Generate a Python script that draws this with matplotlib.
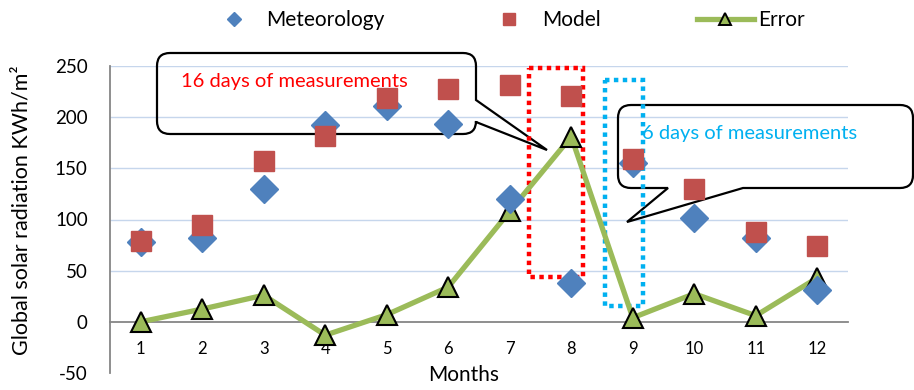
import matplotlib
matplotlib.use("Agg")
import matplotlib.pyplot as plt
import matplotlib.transforms as mtransforms
from matplotlib.path import Path
from matplotlib.patches import PathPatch, Rectangle
from matplotlib.lines import Line2D

plt.rcParams["font.family"] = ["Lato", "DejaVu Sans"]

# Monthly global solar radiation (KWh/m²)
months = list(range(1, 13))
month_labels = [str(m) for m in months]
meteorology = [78, 82, 130, 192, 211, 193, 120, 38, 155, 101, 82, 31]
model = [79, 95, 157, 182, 219, 228, 231, 221, 159, 130, 88, 74]
error = [0, 12.5, 26, -13, 7, 34, 108, 181, 4, 27.5, 6, 43]

y_ticks = [-50, 0, 50, 100, 150, 200, 250]

BLUE = "#4f81bd"
RED = "#c0504d"
GREEN = "#9bbb59"
GRID = "#c6d6ec"
AXIS = "#868686"

W, H = 914, 390
fig = plt.figure(figsize=(W / 100, H / 100), dpi=100)
ax = fig.add_axes([110 / W, 1 - 373 / H, (848 - 110) / W, (373 - 66) / H])

# pixel-space transform (origin top-left) for the annotation shapes
pix = mtransforms.Affine2D().scale(1 / W, -1 / H).translate(0, 1) + fig.transFigure

ax.set_xlim(0.5, 12.5)
ax.set_ylim(-50, 250)
ax.set_xticks(months)
ax.set_xticklabels(month_labels)
ax.set_yticks(y_ticks)
ax.set_yticklabels([str(v) for v in y_ticks])

for v in y_ticks[2:]:
    ax.axhline(v, color=GRID, lw=1.0, zorder=0.5)

for s in ("top", "right"):
    ax.spines[s].set_visible(False)
ax.spines["left"].set_color(AXIS)
ax.spines["left"].set_linewidth(1.3)
ax.spines["bottom"].set_position(("data", 0))
ax.spines["bottom"].set_color(AXIS)
ax.spines["bottom"].set_linewidth(1.3)
ax.spines["bottom"].set_zorder(0.6)

ax.tick_params(axis="y", length=0, pad=16, labelsize=13.5, colors="black")
ax.tick_params(axis="x", length=0, pad=14, labelsize=12, colors="black")

# series
ax.plot(months, error, color=GREEN, lw=3.8, marker="^", ms=14.5,
        mfc=GREEN, mec="black", mew=1.5, zorder=3, clip_on=False)
ax.plot(months, meteorology, ls="none", marker="D", ms=14.2, color=BLUE,
        mec=BLUE, zorder=4, clip_on=False)
ax.plot(months, model, ls="none", marker="s", ms=15, color=RED,
        mec=RED, zorder=5, clip_on=False)


def callout(x0, y0, x1, y1, r, right_tail=None, bottom_tail=None):
    verts = [(x0 + r, y0), (x1 - r, y0), (x1, y0), (x1, y0 + r)]
    codes = [Path.MOVETO, Path.LINETO, Path.CURVE3, Path.CURVE3]
    if right_tail:
        ya, tip, yb = right_tail
        verts += [(x1, ya), tip, (x1, yb)]
        codes += [Path.LINETO] * 3
    verts += [(x1, y1 - r), (x1, y1), (x1 - r, y1)]
    codes += [Path.LINETO, Path.CURVE3, Path.CURVE3]
    if bottom_tail:
        xa, tip, xb = bottom_tail
        verts += [(xa, y1), tip, (xb, y1)]
        codes += [Path.LINETO] * 3
    verts += [(x0 + r, y1), (x0, y1), (x0, y1 - r), (x0, y0 + r),
              (x0, y0), (x0 + r, y0), (x0 + r, y0)]
    codes += [Path.LINETO, Path.CURVE3, Path.CURVE3, Path.LINETO,
              Path.CURVE3, Path.CURVE3, Path.CLOSEPOLY]
    return Path(verts, codes)


for p in (
    callout(157, 53, 476, 134, 13, right_tail=(100, (547, 150), 122)),
    callout(618, 105, 913, 188, 13, bottom_tail=(743, (627, 222), 668)),
):
    ax.add_patch(PathPatch(p, transform=pix, fill=False, ec="black",
                           lw=1.6, zorder=1.5, clip_on=False))

fig.text(181 / W, 1 - 82 / H, "16 days of measurements", color="#ff0000",
         fontsize=14.5, va="center", ha="left", zorder=1.6)
fig.text(642 / W, 1 - 133 / H, "6 days of measurements", color="#00b0f0",
         fontsize=14.5, va="center", ha="left", zorder=1.6)

ax.add_patch(Rectangle((529, 68), 54, 209, transform=pix, fill=False,
                       ec="#ff0000", lw=3.2, ls=(0, (1, 1)), zorder=1.7,
                       clip_on=False))
ax.add_patch(Rectangle((605, 80), 38, 226, transform=pix, fill=False,
                       ec="#00b0f0", lw=3.2, ls=(0, (1, 1)), zorder=1.7,
                       clip_on=False))

# axis titles
fig.text(22 / W, 1 - 210 / H, "Global solar radiation KWh/m²", rotation=90,
         fontsize=15.5, va="center", ha="center")
fig.text(464 / W, 1 - 375 / H, "Months", fontsize=15, va="center", ha="center")

# legend
handles = [
    Line2D([], [], ls="none", marker="D", ms=7.6, color=BLUE),
    Line2D([], [], ls="none", marker="s", ms=9.2, color=RED),
    Line2D([], [], color=GREEN, lw=3.8, marker="^", ms=8.5, mfc=GREEN,
           mec="black", mew=1.4),
]
fig.legend(handles, ["Meteorology", "Model", "Error"], ncol=3,
           loc="center", bbox_to_anchor=(505 / W, 1 - 20 / H),
           frameon=False, fontsize=15, handlelength=2.75,
           handletextpad=0.2, columnspacing=4.6, borderpad=0,
           borderaxespad=0)

fig.savefig("out.png", dpi=100)
